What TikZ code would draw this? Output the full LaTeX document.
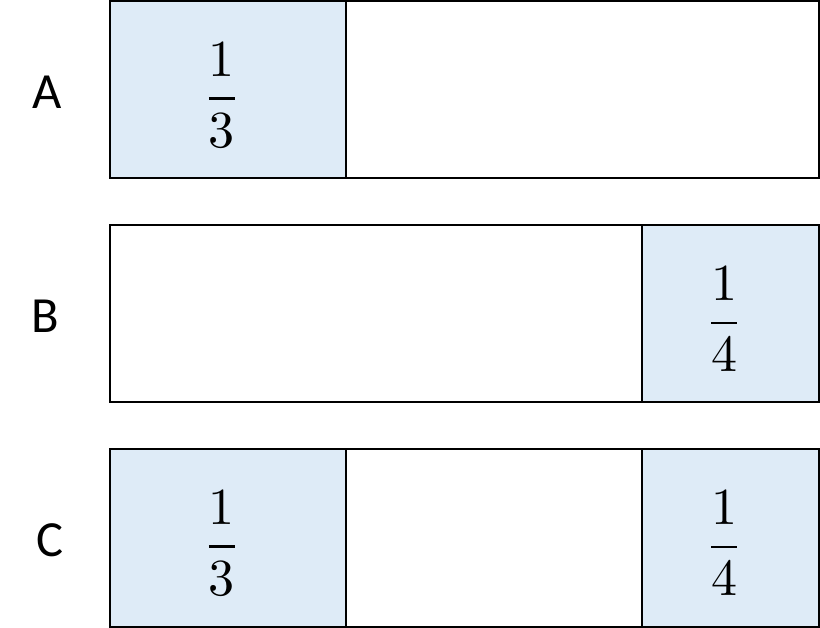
\documentclass[tikz,border=0pt]{standalone}
\usepackage{amsmath}
\usepackage{fontspec}
\usepackage{unicode-math}
\setmathfont{Latin Modern Math}
\newfontfamily\labelfont{Carlito}
\definecolor{partblue}{HTML}{DEEBF7}
\tikzstyle{part} = [fill=partblue, draw=black, line width=1.4pt]
\tikzstyle{rest} = [fill=white, draw=black, line width=1.4pt]
\tikzstyle{barlabel} = [inner sep=0pt, font=\labelfont\fontsize{36}{40}\selectfont]
\tikzstyle{fraction} = [inner sep=0pt, font=\fontsize{37}{42}\selectfont]

\begin{document}
\begin{tikzpicture}[x=0.025cm, y=-0.025cm]
\useasboundingbox (0,0) rectangle (820,628);

% Bar A
\draw [part] (110,1) rectangle (346,178);
\draw [rest] (346,1) rectangle (819,178);
\node (labA) [barlabel] at (47,92) {A};
\node (fracA) [fraction] at (222,95) {$\dfrac{1}{3}$};

% Bar B
\draw [rest] (110,225) rectangle (642,402);
\draw [part] (642,225) rectangle (819,402);
\node (labB) [barlabel] at (45,316) {B};
\node (fracB) [fraction] at (724,319) {$\dfrac{1}{4}$};

% Bar C
\draw [part] (110,449) rectangle (346,627);
\draw [rest] (346,449) rectangle (642,627);
\draw [part] (642,449) rectangle (819,627);
\node (labC) [barlabel] at (50,540) {C};
\node (fracC1) [fraction] at (222,543) {$\dfrac{1}{3}$};
\node (fracC2) [fraction] at (724,543) {$\dfrac{1}{4}$};

\end{tikzpicture}
\end{document}
